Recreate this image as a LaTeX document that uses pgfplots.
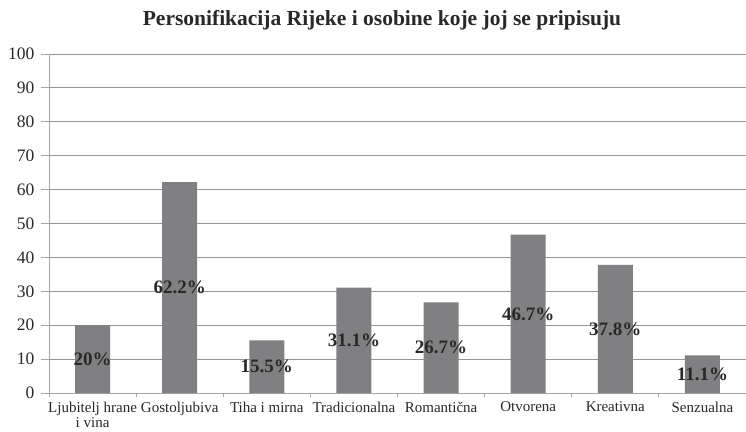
\documentclass[border=0pt]{standalone}
\usepackage{fontspec}
\setmainfont{Liberation Serif}
\usepackage{pgfplots}
\pgfplotsset{compat=1.18}
\definecolor{bargray}{RGB}{128,128,130}
\definecolor{gridgray}{RGB}{150,150,150}
\definecolor{axisgray}{RGB}{165,165,165}
\definecolor{txt}{RGB}{40,40,40}

\begin{document}
\begin{tikzpicture}
\begin{axis}[
  at={(49pt,38pt)}, anchor=south west,
  scale only axis, width=697pt, height=339pt,
  xmin=-0.5, xmax=7.5, ymin=0, ymax=100,
  ytick distance=10,
  xtick={0,...,7},
  xticklabels={{Ljubitelj hrane\\i vina}, Gostoljubiva, {Tiha i mirna}, Tradicionalna, Romantična, Otvorena, Kreativna, Senzualna},
  xticklabel style={align=center, text=txt, font=\fontsize{15}{15.5}\selectfont, yshift=2.5pt},
  yticklabel style={text=txt, font=\fontsize{17.5}{19}\selectfont, xshift=-3pt},
  /pgf/number format/assume math mode=true,
  minor xtick={-0.5,0.5,...,7.5},
  every major x tick/.append style={draw=none},
  major tick length=8pt, minor tick length=4pt,
  tick align=outside,
  tick style={axisgray, line width=0.8pt},
  axis lines*=left,
  axis line style={axisgray, line width=0.8pt},
  ymajorgrids,
  grid style={gridgray, line width=0.8pt},
  ybar, bar width=35pt,
]
\addplot[fill=bargray, draw=none,
  visualization depends on={rawy \as \rawy},
  nodes near coords={\pgfmathprintnumber{\pgfplotspointmeta}\%},
  every node near coord/.append style={anchor=center, yshift=-\rawy*1.695pt,
    text=txt, font=\bfseries\fontsize{19}{21}\selectfont}]
  coordinates {(0,20) (1,62.2) (2,15.5) (3,31.1) (4,26.7) (5,46.7) (6,37.8) (7,11.1)};
\end{axis}
\node[anchor=base, text=txt, font=\bfseries\fontsize{21.5}{23}\selectfont]
  at (382pt,405pt) {Personifikacija Rijeke i osobine koje joj se pripisuju};
\pgfresetboundingbox
\path (0,0) rectangle (746pt,431pt);
\end{tikzpicture}
\end{document}
